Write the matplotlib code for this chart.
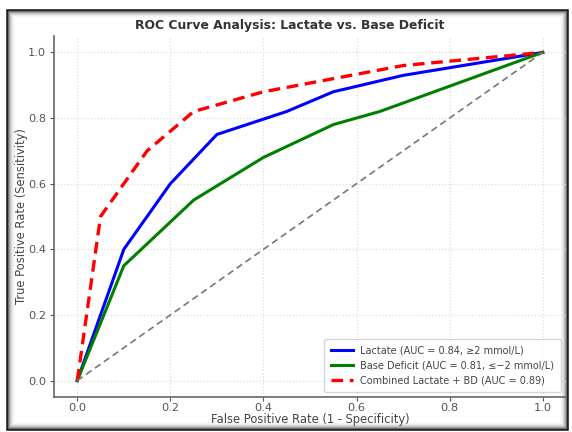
import matplotlib
matplotlib.use("Agg")
import matplotlib.pyplot as plt
from matplotlib.patches import Rectangle

# ---- data ----
lactate_fpr = [0.0, 0.1, 0.2, 0.3, 0.45, 0.55, 0.7, 1.0]
lactate_tpr = [0.0, 0.4, 0.6, 0.75, 0.82, 0.88, 0.93, 1.0]
bd_fpr = [0.0, 0.1, 0.25, 0.4, 0.55, 0.65, 1.0]
bd_tpr = [0.0, 0.35, 0.55, 0.68, 0.78, 0.82, 1.0]
comb_fpr = [0.0, 0.05, 0.15, 0.25, 0.4, 0.55, 0.7, 1.0]
comb_tpr = [0.0, 0.5, 0.7, 0.82, 0.88, 0.92, 0.96, 1.0]
chance = [0.0, 1.0]
labels = ["Lactate (AUC = 0.84, \u22652 mmol/L)",
          "Base Deficit (AUC = 0.81, \u2264\u22122 mmol/L)",
          "Combined Lactate + BD (AUC = 0.89)"]
ticks = [0.0, 0.2, 0.4, 0.6, 0.8, 1.0]

W, H = 572, 432
fig = plt.figure(figsize=(W / 100, H / 100), dpi=100)
fig.patch.set_facecolor("white")

# screenshot-like frame with inner shadow
x0, y0, x1, y1 = 7, 10, 567, 429  # pixel coords (top-left origin)
def rect_px(l, t, r, b, **kw):
    return Rectangle((l / W, 1 - b / H), (r - l) / W, (b - t) / H,
                     transform=fig.transFigure, fill=False, **kw)
shades = ["#111111", "#666666", "#999999", "#bbbbbb", "#d6d6d6", "#e8e8e8", "#f3f3f3"]
for i, c in enumerate(shades):
    fig.patches.append(rect_px(x0 + i, y0 + i, x1 - i, y1 - i, edgecolor=c,
                               linewidth=1.0 if i else 1.8, zorder=-10))

ax = fig.add_axes([54 / W, 1 - 397 / H, (566 - 54) / W, (397 - 36) / H])
ax.set_facecolor("none")

ax.plot(lactate_fpr, lactate_tpr, color="blue", lw=2.2, label=labels[0])
ax.plot(bd_fpr, bd_tpr, color="green", lw=2.2, label=labels[1])
ax.plot(comb_fpr, comb_tpr, color="red", lw=2.4, ls=(0, (3.5, 2)), label=labels[2])
ax.plot(chance, chance, color="#777777", lw=1.2, ls=(0, (4, 2.5)))

ax.set_xlim(-0.05, 1.05)
ax.set_ylim(-0.05, 1.05)
ax.set_xticks(ticks)
ax.set_yticks(ticks)
ax.grid(True, color="#dddddd", ls=":", lw=0.9)
for s in ["top", "right"]:
    ax.spines[s].set_visible(False)
for s in ["left", "bottom"]:
    ax.spines[s].set_color("#666666")
    ax.spines[s].set_linewidth(1.2)
ax.tick_params(colors="#555555", labelsize=8.2, length=3)
ax.tick_params(axis="x", pad=1.5)
ax.tick_params(axis="y", pad=2.5)

ax.set_xlabel("False Positive Rate (1 - Specificity)", fontsize=8.3, color="#444444")
ax.set_ylabel("True Positive Rate (Sensitivity)", fontsize=8.3, color="#444444")
ax.xaxis.set_label_coords(0.5, -22 / 361, transform=ax.transAxes)
ax.yaxis.set_label_coords(-32 / 512, 0.5, transform=ax.transAxes)
ax.xaxis.label.set_va("center")
ax.yaxis.label.set_va("center")
fig.text(290 / W, 1 - 25 / H, "ROC Curve Analysis: Lactate vs. Base Deficit",
         ha="center", va="center", fontsize=8.9, fontweight="bold", color="#333333")

leg = ax.legend(loc="lower right", fontsize=7.0, frameon=True, borderpad=0.7,
                handlelength=2.2, labelspacing=0.5, bbox_to_anchor=(1.0, 0.0))
leg.get_frame().set_edgecolor("#cccccc")
for t in leg.get_texts():
    t.set_color("#444444")

fig.savefig("out.png", dpi=100)
